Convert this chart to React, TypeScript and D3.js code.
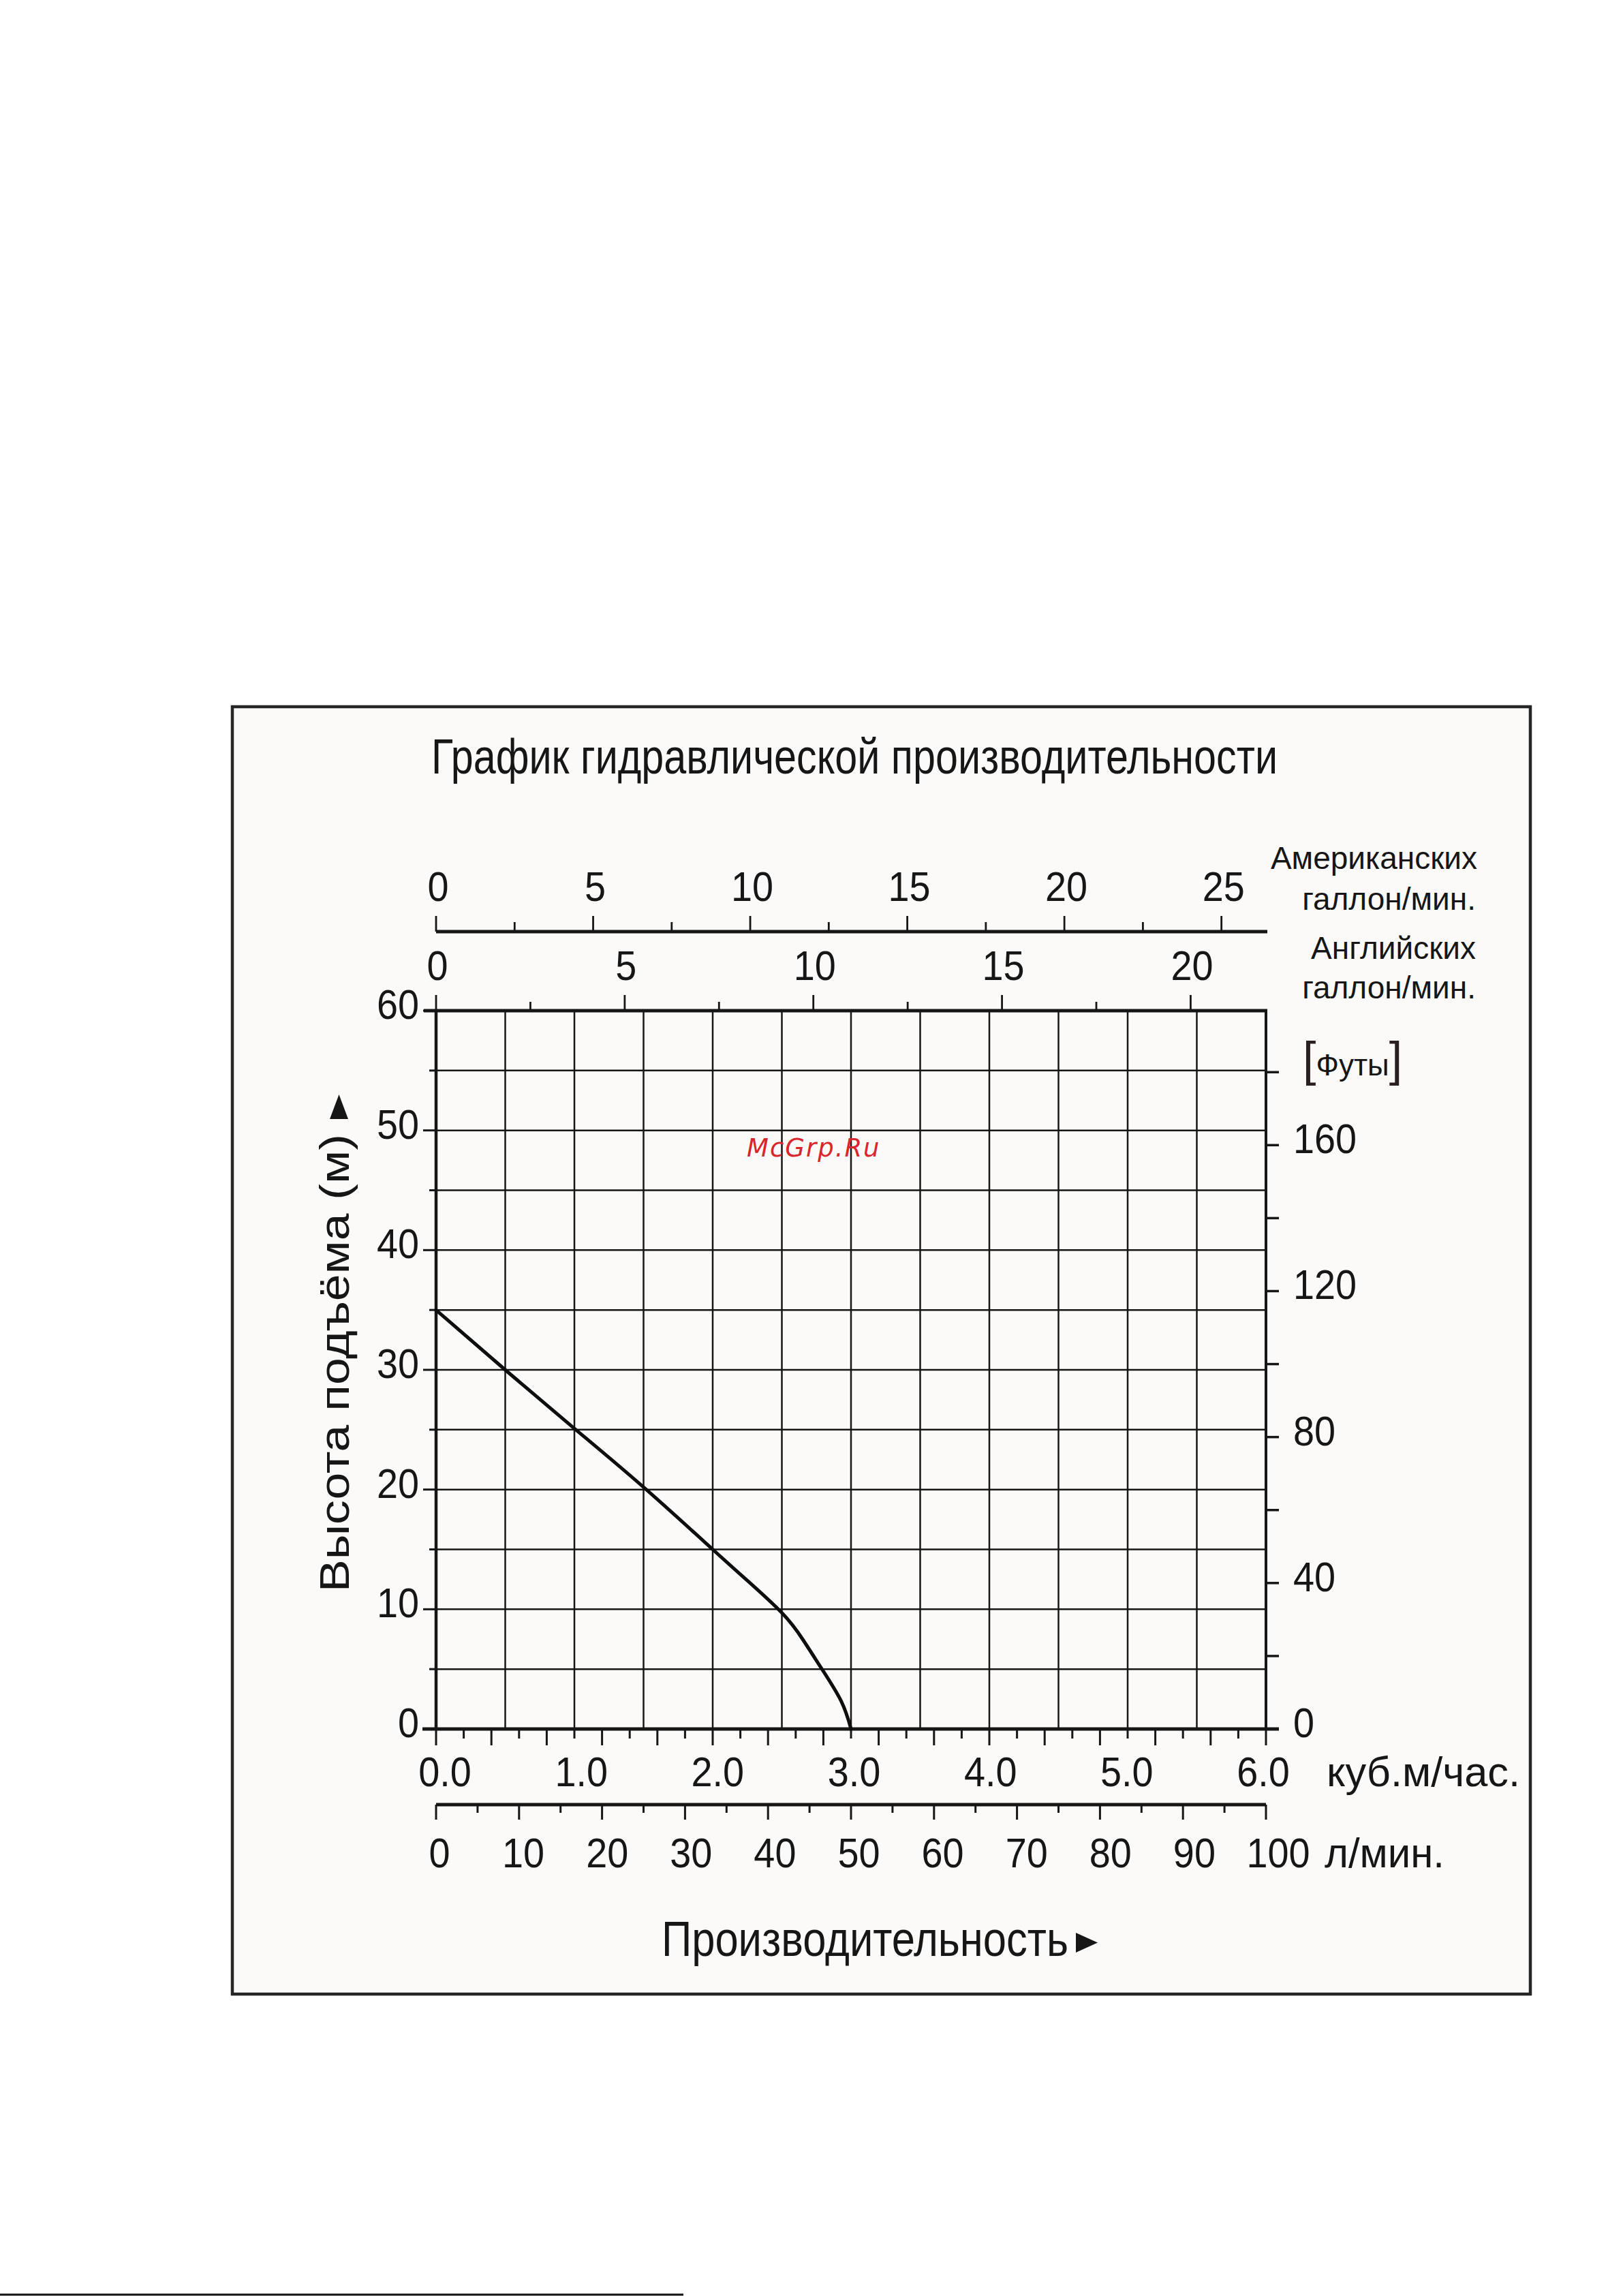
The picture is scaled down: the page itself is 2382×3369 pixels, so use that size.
import React from "react";
import * as d3 from "d3";

// pump curve
const flowM3h = [0, 0.5, 1.0, 1.5, 2.0, 2.25, 2.5, 2.65, 2.79, 2.93, 3.0];
const headM = [35, 30, 25.1, 20.2, 15, 12.4, 9.7, 7.5, 5, 2.3, 0];

// tick labels
const headLabels = [0, 10, 20, 30, 40, 50, 60];
const feetLabels = [0, 40, 80, 120, 160];
const m3hLabels = [0, 1, 2, 3, 4, 5, 6];
const lpmLabels = [0, 10, 20, 30, 40, 50, 60, 70, 80, 90, 100];
const usgLabels = [0, 5, 10, 15, 20, 25];
const igLabels = [0, 5, 10, 15, 20];

const W = 2382;
const H = 3369;
const FONT = "'Liberation Sans', Arial, sans-serif";
const INK = "#161616";

const L_PER_USG = 3.78541;
const L_PER_IG = 4.54609;
const M_PER_FT = 0.3048;

const plot = { left: 640, right: 1858, top: 1483, bottom: 2537 };

const x = d3.scaleLinear().domain([0, 6]).range([plot.left, plot.right]);
const y = d3.scaleLinear().domain([0, 60]).range([plot.bottom, plot.top]);
const xLpm = d3.scaleLinear().domain([0, 100]).range([plot.left, plot.right]);
const xIg = d3.scaleLinear().domain([0, 100 / L_PER_IG]).range([plot.left, plot.right]);
const xUsg = d3.scaleLinear().domain([0, 100 / L_PER_USG]).range([plot.left, plot.right]);
const yFt = d3.scaleLinear().domain([0, 60 / M_PER_FT]).range([plot.bottom, plot.top]);

// label positions are slightly tighter than the ticks in the original
const xM3hLabel = d3.scaleLinear().domain([0, 6]).range([plot.left + 13, plot.right - 4]);
const xLpmLabel = d3.scaleLinear().domain([0, 100]).range([plot.left + 5, plot.right + 18]);

const usgAxisY = 1367;
const lpmAxisY = 2648;

const Num = ({ x, y, t, anchor = "middle" }) => (
  <text
    transform={`translate(${x},${y}) scale(0.9,1)`}
    textAnchor={anchor}
    fontFamily={FONT}
    fontSize={62}
    fill={INK}
  >
    {t}
  </text>
);

const App = () => {
  const line = d3
    .line<number>()
    .x((d, i) => x(flowM3h[i]))
    .y((d) => y(d))
    .curve(d3.curveNatural);

  const gridX = x.ticks(12).filter((v) => v > 0 && v < 6);
  const gridY = y.ticks(12).filter((v) => v > 0 && v < 60);
  const leftTicks = y.ticks(12);
  const m3hTicks = x.ticks(24);
  const lpmTicks = xLpm.ticks(20);
  const igTicks = d3.range(0, 20.01, 2.5);
  const usgTicks = d3.range(0, 25.01, 2.5);
  const ftTicks = d3.range(0, 181, 20);

  return (
    <div style={{ position: "absolute", left: 0, top: 0 }}>
      <svg width={W} height={H} style={{ display: "block", background: "#fff" }}>
        {/* frame */}
        <rect x={341} y={1037} width={1905} height={1889} fill="#fbfaf8" stroke="#262626" strokeWidth={4.5} />

        {/* title */}
        <text x={633} y={1135} fontFamily={FONT} fontSize={72} fill={INK} textLength={1242} lengthAdjust="spacingAndGlyphs">
          График гидравлической производительности
        </text>

        {/* grid */}
        {gridX.map((v) => (
          <line key={"gx" + v} x1={x(v)} x2={x(v)} y1={plot.top} y2={plot.bottom} stroke={INK} strokeWidth={2.5} />
        ))}
        {gridY.map((v) => (
          <line key={"gy" + v} x1={plot.left} x2={plot.right} y1={y(v)} y2={y(v)} stroke={INK} strokeWidth={2.5} />
        ))}

        {/* left axis */}
        <line x1={plot.left} x2={plot.left} y1={plot.top} y2={plot.bottom} stroke={INK} strokeWidth={4.5} />
        {leftTicks.map((v) => (
          <line key={"lt" + v} x1={plot.left - (v % 10 === 0 ? 19 : 10)} x2={plot.left} y1={y(v)} y2={y(v)} stroke={INK} strokeWidth={3} />
        ))}
        {headLabels.map((v) => (
          <Num key={"hl" + v} x={615} y={y(v) + 12} t={v} anchor="end" />
        ))}

        {/* right axis (feet) */}
        <line x1={plot.right} x2={plot.right} y1={plot.top} y2={plot.bottom} stroke={INK} strokeWidth={4} />
        {ftTicks.map((v) => (
          <line key={"ft" + v} x1={plot.right} x2={plot.right + 19} y1={yFt(v)} y2={yFt(v)} stroke={INK} strokeWidth={3.5} />
        ))}
        {feetLabels.map((v) => (
          <Num key={"fl" + v} x={1898} y={yFt(v) + 12} t={v} anchor="start" />
        ))}
        <text x={1912} y={1578} fontFamily={FONT} fill={INK}>
          <tspan fontSize={70} fill="#2b2020">[</tspan>
          <tspan fontSize={44}>Футы</tspan>
          <tspan fontSize={70} fill="#2b2020">]</tspan>
        </text>

        {/* top axes: imperial on the plot top, US above */}
        <line x1={plot.left - 18} x2={plot.right + 2} y1={plot.top} y2={plot.top} stroke={INK} strokeWidth={5} />
        {igTicks.map((v) => (
          <line key={"ig" + v} x1={xIg(v)} x2={xIg(v)} y1={plot.top} y2={plot.top - (v % 5 === 0 ? 23 : 13)} stroke={INK} strokeWidth={2.8} />
        ))}
        {igLabels.map((v) => (
          <Num key={"igl" + v} x={xIg(v) + 2} y={1438} t={v} />
        ))}
        <line x1={plot.left} x2={plot.right + 2} y1={usgAxisY} y2={usgAxisY} stroke={INK} strokeWidth={5} />
        {usgTicks.map((v) => (
          <line key={"us" + v} x1={xUsg(v)} x2={xUsg(v)} y1={usgAxisY} y2={usgAxisY - (v % 5 === 0 ? 23 : 14)} stroke={INK} strokeWidth={2.8} />
        ))}
        {usgLabels.map((v) => (
          <Num key={"usl" + v} x={xUsg(v) + 3} y={1322} t={v} />
        ))}
        <g fontFamily={FONT} fontSize={46} fill={INK} textAnchor="end">
          <text x={2168} y={1275}>Американских</text>
          <text x={2166} y={1335}>галлон/мин.</text>
          <text x={2166} y={1407}>Английских</text>
          <text x={2166} y={1465}>галлон/мин.</text>
        </g>

        {/* bottom axes */}
        <line x1={plot.left - 20} x2={plot.right + 19} y1={plot.bottom} y2={plot.bottom} stroke={INK} strokeWidth={5} />
        {m3hTicks.map((v, i) => (
          <line key={"m3" + v} x1={x(v)} x2={x(v)} y1={plot.bottom} y2={plot.bottom + (i % 2 === 0 ? 24 : 14)} stroke={INK} strokeWidth={3} />
        ))}
        {m3hLabels.map((v) => (
          <Num key={"m3l" + v} x={xM3hLabel(v)} y={2621} t={v.toFixed(1)} />
        ))}
        <text x={1947} y={2621} fontFamily={FONT} fontSize={62} fill={INK} textLength={284} lengthAdjust="spacingAndGlyphs">
          куб.м/час.
        </text>

        <line x1={plot.left} x2={plot.right} y1={lpmAxisY} y2={lpmAxisY} stroke={INK} strokeWidth={5} />
        {lpmTicks.map((v) => (
          <line key={"lp" + v} x1={xLpm(v)} x2={xLpm(v)} y1={lpmAxisY} y2={lpmAxisY + (v % 10 === 0 ? 22 : 12)} stroke={INK} strokeWidth={3} />
        ))}
        {lpmLabels.map((v) => (
          <Num key={"lpl" + v} x={xLpmLabel(v)} y={2740} t={v} />
        ))}
        <text x={1944} y={2740} fontFamily={FONT} fontSize={62} fill={INK} textLength={176} lengthAdjust="spacingAndGlyphs">
          л/мин.
        </text>

        {/* axis titles */}
        <text x={971} y={2870} fontFamily={FONT} fontSize={72} fill={INK} textLength={597} lengthAdjust="spacingAndGlyphs">
          Производительность
        </text>
        <polygon points="1579,2836 1579,2865 1611,2850.5" fill={INK} />

        <text
          transform="translate(512,2336) rotate(-90)"
          fontFamily={FONT}
          fontSize={62}
          fill={INK}
          textLength={672}
          lengthAdjust="spacingAndGlyphs"
        >
          Высота подъёма (м)
        </text>
        <polygon points="497.5,1606 484,1642 511,1642" fill={INK} />

        {/* curve */}
        <path d={line(headM) || ""} fill="none" stroke="#0e0e0e" strokeWidth={5} strokeLinecap="round" strokeLinejoin="round" />

        {/* watermark */}
        <text x={1096} y={1697} fontFamily="'DejaVu Sans', sans-serif" fontStyle="italic" fontSize={37} letterSpacing={2} fill="#d9262c">
          McGrp.Ru
        </text>

        {/* scan edge at the bottom of the page */}
        <line x1={0} x2={1003} y1={3367} y2={3367} stroke="#111" strokeWidth={3} />
      </svg>
    </div>
  );
};

export default App;
